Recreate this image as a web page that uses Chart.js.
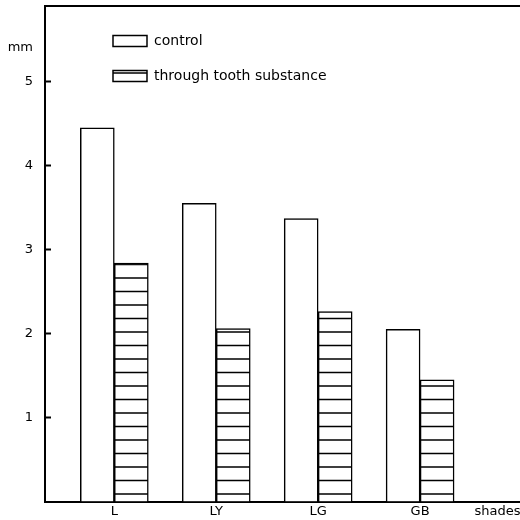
<!DOCTYPE html>
<html>
<head>
<meta charset="utf-8">
<script src="https://cdn.jsdelivr.net/npm/chart.js@4"></script>
<style>
  html, body { margin: 0; padding: 0; background: #fff; }
  #wrap { width: 520px; height: 520px; position: relative; }
</style>
</head>
<body>
<div id="wrap"><canvas id="shadesChart"></canvas></div>
<script>
const categories = ['L', 'LY', 'LG', 'GB'];
const control = [4.45, 3.55, 3.37, 2.05];
const throughTooth = [2.84, 2.06, 2.26, 1.45];
const seriesNames = ['control', 'through tooth substance'];

// tick labels: x has the shade names plus the axis word, y has 1..5 plus the unit
const xTickValues = [0, 1, 2, 3, 3.76];
const xTickLabels = [...categories, 'shades'];
const yTickValues = [1, 2, 3, 4, 5, 5.4];
const yTickLabels = ['1', '2', '3', '4', '5', 'mm'];

function makeHatch(tileH, lines) {
  const c = document.createElement('canvas');
  c.width = 8;
  c.height = tileH;
  const g = c.getContext('2d');
  g.fillStyle = '#fff';
  g.fillRect(0, 0, 8, tileH);
  g.fillStyle = '#000';
  lines.forEach((y) => g.fillRect(0, y - 0.75, 8, 1.5));
  return g.createPattern(c, 'repeat');
}

const barHatch = makeHatch(27, [8, 21.5]);
const legendHatch = makeHatch(9, [1]);

const legendShift = {
  id: 'legendShift',
  afterLayout(chart) {
    const lg = chart.legend;
    lg.left += 47;
    lg.right += 47;
    lg.top += 13;
  },
};

// keep the label overhang from shrinking the plot area
function noPadding(scale) {
  scale.paddingTop = 0;
  scale.paddingBottom = 0;
  scale.paddingLeft = 0;
  scale.paddingRight = 0;
}

Chart.defaults.font.family = "'DejaVu Sans', sans-serif";
Chart.defaults.font.size = 14;
Chart.defaults.color = '#000';

const ctx = document.getElementById('shadesChart');
// eslint-disable-next-line no-unused-vars
const shadesChart = new Chart(ctx, {
  type: 'bar',
  data: {
    datasets: [{
      label: seriesNames[0],
      data: control.map((v, i) => ({ x: i, y: v })),
      backgroundColor: '#fff',
      borderColor: '#000',
      borderWidth: 1.5,
      barThickness: 34,
    }, {
      label: seriesNames[1],
      data: throughTooth.map((v, i) => ({ x: i, y: v })),
      backgroundColor: barHatch,
      borderColor: '#000',
      borderWidth: 1.5,
      barThickness: 34,
    }],
  },
  options: {
    responsive: true,
    maintainAspectRatio: false,
    animation: false,
    layout: { padding: 0 },
    plugins: {
      legend: {
        position: 'chartArea',
        align: 'start',
        labels: {
          boxWidth: 34,
          boxHeight: 11,
          padding: 21,
          font: { size: 14 },
          generateLabels(chart) {
            const items = Chart.defaults.plugins.legend.labels.generateLabels(chart);
            items[1].fillStyle = legendHatch;
            return items;
          },
        },
      },
      tooltip: { enabled: false },
    },
    scales: {
      x: {
        type: 'linear',
        position: 'bottom',
        offset: false,
        min: -0.68,
        max: 3.98,
        grid: { display: false, drawTicks: false, offset: false },
        border: { display: true, color: '#000', width: 2 },
        afterBuildTicks: (scale) => {
          scale.ticks = xTickValues.map((v) => ({ value: v }));
        },
        afterFit: (scale) => { scale.height = 18.5; noPadding(scale); },
        ticks: {
          autoSkip: false,
          maxRotation: 0,
          padding: 4,
          font: { size: 13, lineHeight: 1 },
          callback: (v, i) => xTickLabels[i],
        },
      },
      x2: {
        type: 'linear',
        position: 'top',
        offset: false,
        min: -0.68,
        max: 3.98,
        grid: { display: false, drawTicks: false, offset: false },
        ticks: { display: false },
        border: { display: true, color: '#000', width: 2 },
        afterFit: (scale) => { scale.height = 6; noPadding(scale); },
      },
      y: {
        min: 0,
        max: 5.9,
        grid: {
          drawOnChartArea: false,
          tickLength: -6,
          tickWidth: 2,
          tickColor: (c) => (c.tick && c.tick.value > 5 ? 'rgba(0,0,0,0)' : '#000'),
        },
        border: { display: true, color: '#000', width: 2 },
        afterBuildTicks: (scale) => {
          scale.ticks = yTickValues.map((v) => ({ value: v }));
        },
        afterFit: (scale) => { scale.width = 45; noPadding(scale); },
        ticks: {
          autoSkip: false,
          padding: 18,
          font: { size: 13 },
          callback: (v, i) => yTickLabels[i],
        },
      },
    },
  },
  plugins: [legendShift],
});
</script>
</body>
</html>
